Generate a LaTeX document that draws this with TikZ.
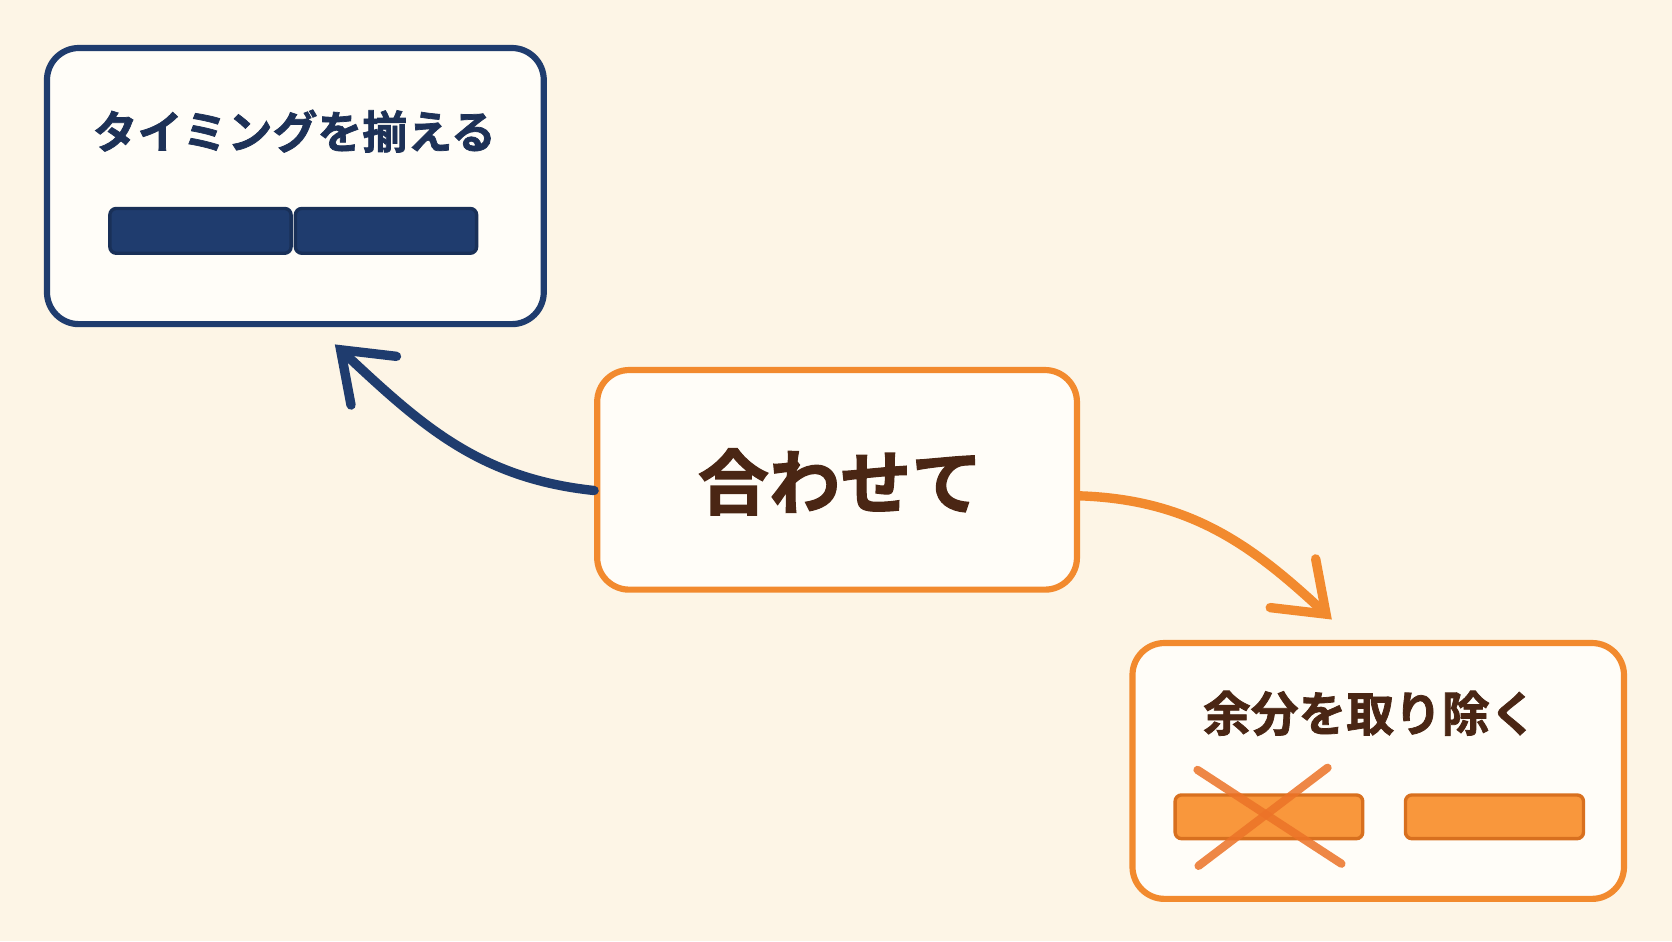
\documentclass[tikz,border=0pt]{standalone}
\usepackage{fontspec}
\usetikzlibrary{arrows.meta}
\newfontfamily\jpfont{Noto Sans CJK JP}[BoldFont={Noto Sans CJK JP Bold},BoldFeatures={FakeBold=1.6}]
\definecolor{bgcream}{HTML}{FDF5E6}
\definecolor{boxfill}{HTML}{FFFDF8}
\definecolor{navy}{HTML}{1F3C6E}
\definecolor{navytext}{HTML}{1D3157}
\definecolor{orangeline}{HTML}{F28A2E}
\definecolor{orangebar}{HTML}{F9973C}
\definecolor{orangedark}{HTML}{D8701F}
\definecolor{crossline}{HTML}{EC7328}
\definecolor{browntext}{HTML}{4A2614}
\tikzset{
  card/.style={draw,rounded corners=0.6cm,line width=3.3pt,fill=boxfill},
  bluebar/.style={draw=navy!80!black,fill=navy,rounded corners=0.12cm,line width=1.8pt,
    minimum height=0.84cm},
  orangebar/.style={draw=orangedark,fill=orangebar,rounded corners=0.12cm,line width=1.8pt,
    minimum height=0.82cm},
  curvearrow/.style={line width=5pt,line cap=round,
    -{Straight Barb[length=0.85cm,width=1.25cm,line cap=round]}},
}
\begin{document}
\begin{tikzpicture}[x=0.02cm,y=-0.02cm,font=\jpfont\bfseries]
  \fill[bgcream] (0,0) rectangle (1568,882.5);
  \useasboundingbox (0,0) rectangle (1568,882.5);

  % boxes
  \node[card,draw=navy,minimum width=9.32cm,minimum height=5.18cm] (align) at (277,174.5) {};
  \node[card,draw=orangeline,minimum width=9cm,minimum height=4.12cm] (center) at (785,450) {};
  \node[card,draw=orangeline,minimum width=9.22cm,minimum height=4.8cm] (remove) at (1292.5,723) {};

  \node[text=navytext,font=\jpfont\bfseries\fontsize{24}{24}\selectfont] (alignlbl) at (276,123) {タイミングを揃える};
  \node[text=browntext,font=\jpfont\bfseries\fontsize{38}{38}\selectfont] (centerlbl) at (788,452) {合わせて};
  \node[text=browntext,font=\jpfont\bfseries\fontsize{25.5}{25.5}\selectfont] (removelbl) at (1285,669) {余分を取り除く};

  % bars
  \node[bluebar,minimum width=3.4cm] (bA) at (188,216.5) {};
  \node[bluebar,minimum width=3.4cm] (bB) at (362,216.5) {};
  \node[orangebar,minimum width=3.52cm] (oA) at (1190,766) {};
  \node[orangebar,minimum width=3.34cm] (oB) at (1401.5,766) {};

  % cross over the first orange bar
  \coordinate (xa) at (1123,722);
  \coordinate (xb) at (1258,810);
  \coordinate (xc) at (1245,720);
  \coordinate (xd) at (1124,812);
  \draw[crossline,line width=4.4pt,opacity=0.85,line cap=round] (xa) -- (xb);
  \draw[crossline,line width=4.4pt,opacity=0.85,line cap=round] (xc) -- (xd);

  % arrows
  \coordinate (tipA) at (314,323);
  \coordinate (tipB) at (1249,581);
  \draw[curvearrow,navy] ([yshift=-0.2cm]center.west) to[out=174,in=-43] (tipA);
  \draw[curvearrow,orangeline] ([yshift=-0.3cm]center.east) to[out=-2,in=137] (tipB);
\end{tikzpicture}
\end{document}
